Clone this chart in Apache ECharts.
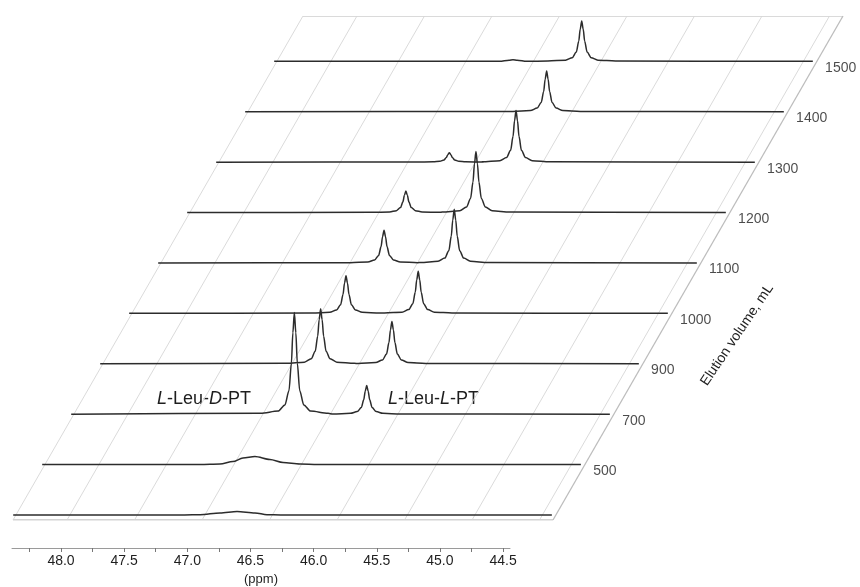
<!DOCTYPE html>
<html>
<head>
<meta charset="utf-8">
<script src="https://cdn.jsdelivr.net/npm/echarts@6/dist/echarts.min.js"></script>
<style>
html,body{margin:0;padding:0;background:#fff;}
#c{width:860px;height:587px;}
</style>
</head>
<body>
<div id="c"></div>
<script>
// ---------- data ----------
// elution volume of each stacked spectrum, front to back (front trace unlabeled)
var volumes = [null, 500, 700, 900, 1000, 1100, 1200, 1300, 1400, 1500];
// spectra: [ppm, relative intensity] (tallest peak = 100)
var spec0 = [[47.15,0],[47.036,0.3],[46.888,2.0],[46.762,3.4],[46.629,2.0],[46.540,0.3],[46.44,0]];
var spec500 = [[47.25,0],[47.103,0.5],[47.007,2.9],[46.933,6.4],[46.844,7.9],[46.733,4.9],[46.636,2.0],[46.510,0.6],[46.38,0]];
var spec700 = [
 [47.017,0.8],[46.887,3],[46.837,9],[46.807,23],[46.789,50],[46.778,80],[46.767,100],[46.756,80],[46.745,50],[46.727,23],[46.697,9],[46.647,3],[46.517,0.8],
 [46.481,0.2],[46.351,0.8],[46.301,2.5],[46.271,6.5],[46.253,14.1],[46.242,22.6],[46.231,28.2],[46.220,22.6],[46.209,14.1],[46.191,6.5],[46.161,2.5],[46.111,0.8],[45.981,0.2]];
var spec900 = [
 [47.037,0.4],[46.907,1.6],[46.857,4.9],[46.827,12.4],[46.809,27.1],[46.798,43.3],[46.787,54.1],[46.776,43.3],[46.765,27.1],[46.747,12.4],[46.717,4.9],[46.667,1.6],[46.537,0.4],
 [46.509,0.3],[46.379,1.2],[46.329,3.7],[46.299,9.6],[46.281,20.8],[46.270,33.3],[46.259,41.6],[46.248,33.3],[46.237,20.8],[46.219,9.6],[46.189,3.7],[46.139,1.2],[46.009,0.3]];
var spec1000 = [
 [47.064,0.3],[46.934,1.1],[46.884,3.3],[46.854,8.5],[46.836,18.6],[46.825,29.7],[46.814,37.1],[46.803,29.7],[46.792,18.6],[46.774,8.5],[46.744,3.3],[46.694,1.1],[46.564,0.3],
 [46.529,0.3],[46.399,1.2],[46.349,3.7],[46.319,9.5],[46.301,20.7],[46.290,33.0],[46.279,41.3],[46.268,33.0],[46.257,20.7],[46.239,9.5],[46.209,3.7],[46.159,1.2],[46.029,0.3]];
var spec1100 = [
 [46.997,0.3],[46.867,1.0],[46.817,2.9],[46.787,7.4],[46.769,16.1],[46.758,25.8],[46.747,32.2],[46.736,25.8],[46.725,16.1],[46.707,7.4],[46.677,2.9],[46.627,1.0],[46.497,0.3],
 [46.477,0.4],[46.347,1.6],[46.297,4.8],[46.267,12.1],[46.249,26.4],[46.238,42.2],[46.227,52.8],[46.216,42.2],[46.205,26.4],[46.187,12.1],[46.157,4.8],[46.107,1.6],[45.977,0.4]];
var spec1200 = [
 [47.050,0.2],[46.920,0.6],[46.870,1.9],[46.840,4.9],[46.822,10.6],[46.811,17.0],[46.800,21.2],[46.789,17.0],[46.778,10.6],[46.760,4.9],[46.730,1.9],[46.680,0.6],[46.550,0.2],
 [46.531,0.5],[46.401,1.8],[46.351,5.4],[46.321,13.8],[46.303,30],[46.292,48],[46.281,60],[46.270,48],[46.259,30],[46.241,13.8],[46.211,5.4],[46.161,1.8],[46.031,0.5]];
var spec1300 = [
 [46.943,0.1],[46.813,0.3],[46.763,0.8],[46.733,2.1],[46.715,4.6],[46.704,7.4],[46.693,9.2],[46.682,7.4],[46.671,4.6],[46.653,2.1],[46.623,0.8],[46.573,0.3],[46.443,0.1],
 [46.449,0.4],[46.319,1.5],[46.269,4.6],[46.239,11.7],[46.221,25.4],[46.210,40.6],[46.199,50.8],[46.188,40.6],[46.177,25.4],[46.159,11.7],[46.129,4.6],[46.079,1.5],[45.949,0.4]];
var spec1400 = [
 [46.437,0.3],[46.307,1.2],[46.257,3.6],[46.227,9.2],[46.209,20],[46.198,32],[46.187,40],[46.176,32],[46.165,20],[46.147,9.2],[46.117,3.6],[46.067,1.2],[45.937,0.3]];
var spec1500 = [
 [46.75,0],[46.68,1.0],[46.651,1.5],[46.62,1.0],[46.55,0],
 [46.392,0.3],[46.262,1.2],[46.212,3.6],[46.182,9.1],[46.164,19.8],[46.153,31.7],[46.142,39.6],[46.131,31.7],[46.120,19.8],[46.102,9.1],[46.072,3.6],[46.022,1.2],[45.892,0.3]];
var spectra = [spec0, spec500, spec700, spec900, spec1000, spec1100, spec1200, spec1300, spec1400, spec1500];
// axis ticks (ppm)
var ppmLabels = [48.0, 47.5, 47.0, 46.5, 46.0, 45.5, 45.0, 44.5];
var ppmTicks = [48.25, 48.0, 47.75, 47.5, 47.25, 47.0, 46.75, 46.5, 46.25, 46.0, 45.75, 45.5, 45.25, 45.0, 44.75, 44.5];

// ---------- geometry of the oblique (pseudo-3D) projection ----------
var PPM_LEFT = 48.4, PPM_RIGHT = 44.4;      // floor extent in ppm
var TRACE_LEFT = 48.42, TRACE_RIGHT = 44.43; // spectrum extent
var DEPTH = 10;                              // floor depth in layers
var SHIFT = 0.2148;                          // ppm shift per layer (oblique)
var LAYER0 = 0.1;                            // depth of first trace
var INT_K = 0.02018;                         // layers per intensity unit

function proj(ppm, d, inten) { return [ppm - SHIFT * d, d + (inten || 0) * INT_K]; }

var FONT = 'Liberation Sans, Arial, sans-serif';
var series = [];
// floor grid
var floorLines = [];
floorLines.push({coords: [proj(PPM_LEFT, 0), proj(PPM_RIGHT, 0)], lineStyle: {color: '#c4c4c4', width: 1.6}});
floorLines.push({coords: [proj(PPM_LEFT, DEPTH), proj(PPM_RIGHT, DEPTH)]});
floorLines.push({coords: [proj(PPM_LEFT, 0), proj(PPM_LEFT, DEPTH)]});
floorLines.push({coords: [proj(PPM_RIGHT, 0), proj(PPM_RIGHT, DEPTH)], lineStyle: {color: '#bdbdbd', width: 1.3}});
ppmLabels.forEach(function (p) { floorLines.push({coords: [proj(p, 0), proj(p, DEPTH)]}); });
series.push({
  type: 'lines', coordinateSystem: 'cartesian2d', xAxisIndex: 0, yAxisIndex: 0,
  data: floorLines, silent: true, z: 1,
  lineStyle: {color: '#d6d6d6', width: 0.9, opacity: 1}
});
// spectra
spectra.forEach(function (sp, k) {
  var d = LAYER0 + k;
  var pts = [proj(TRACE_LEFT, d)];
  sp.forEach(function (p) { pts.push(proj(p[0], d, p[1])); });
  pts.push(proj(TRACE_RIGHT, d));
  series.push({
    type: 'line', xAxisIndex: 0, yAxisIndex: 0, data: pts, showSymbol: false,
    smooth: 0.3, smoothMonotone: 'x',
    lineStyle: {color: '#2c2c2c', width: 1.5}, z: 3, silent: true, clip: false
  });
});
// depth (elution volume) labels on the right edge
var volPts = [];
volumes.forEach(function (v, k) {
  if (v === null) return;
  var d = LAYER0 + k - 0.13;
  volPts.push({value: proj(PPM_RIGHT, d), label: {formatter: String(v)}});
});
series.push({
  type: 'scatter', xAxisIndex: 0, yAxisIndex: 0, data: volPts, symbolSize: 0, silent: true, z: 4,
  label: {show: true, position: 'right', distance: 12, color: '#1e1e1e', fontSize: 14, fontFamily: FONT}
});
// dummy series for the ppm axis grid
series.push({type: 'line', xAxisIndex: 1, yAxisIndex: 1, data: [], showSymbol: false});

var chart = echarts.init(document.getElementById('c'), null, {renderer: 'canvas'});
chart.setOption({
  animation: false,
  backgroundColor: '#fff',
  grid: [
    {left: 13, right: 16, top: 16, bottom: 67},
    {left: 12, right: 350, top: 520, bottom: 39}
  ],
  xAxis: [
    {type: 'value', gridIndex: 0, inverse: true, min: 48.4 - 831 / 135, max: 48.4, show: false},
    {type: 'value', gridIndex: 1, inverse: true, min: 44.445, max: 48.388,
     axisLine: {show: true, lineStyle: {color: '#9a9a9a', width: 1}},
     axisTick: {show: true, customValues: ppmTicks, length: 4, lineStyle: {color: '#777'}},
     axisLabel: {show: true, customValues: ppmLabels, formatter: function (v) { return v.toFixed(1); },
                 color: '#1e1e1e', fontSize: 14, margin: 6, fontFamily: FONT},
     splitLine: {show: false},
     name: '(ppm)', nameLocation: 'middle', nameGap: 25,
     nameTextStyle: {color: '#1e1e1e', fontSize: 13, fontFamily: FONT}}
  ],
  yAxis: [
    {type: 'value', gridIndex: 0, min: 0, max: DEPTH, show: false},
    {type: 'value', gridIndex: 1, min: 0, max: 1, show: false}
  ],
  graphic: [
    {type: 'text', left: 157, top: 390, silent: true,
     style: {text: '{i|L}-Leu-{i|D}-PT', fill: '#1e1e1e', font: '18px ' + FONT,
             rich: {i: {fontStyle: 'italic', fontSize: 18, fontFamily: FONT, fill: '#1e1e1e'}}}},
    {type: 'text', left: 388, top: 390, silent: true,
     style: {text: '{i|L}-Leu-{i|L}-PT', fill: '#1e1e1e', font: '18px ' + FONT,
             rich: {i: {fontStyle: 'italic', fontSize: 18, fontFamily: FONT, fill: '#1e1e1e'}}}},
    {type: 'text', x: 737, y: 335, rotation: 56 * Math.PI / 180, silent: true,
     style: {text: 'Elution volume, mL', fill: '#1e1e1e', font: '14px ' + FONT,
             align: 'center', verticalAlign: 'middle'}}
  ],
  series: series
});
</script>
</body>
</html>
